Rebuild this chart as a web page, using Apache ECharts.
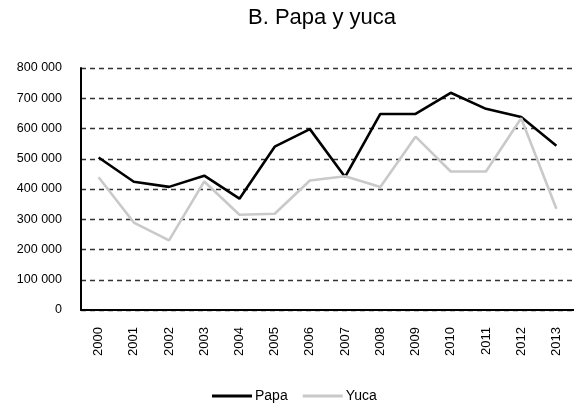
<!DOCTYPE html>
<html>
<head>
<meta charset="utf-8">
<script src="https://cdn.jsdelivr.net/npm/echarts@6/dist/echarts.min.js"></script>
<style>
  html, body { margin: 0; padding: 0; background: #fff; }
  #chart { width: 574px; height: 407px; }
</style>
</head>
<body>
<div id="chart"></div>
<script>
// datos
const years = ['2000', '2001', '2002', '2003', '2004', '2005', '2006',
  '2007', '2008', '2009', '2010', '2011', '2012', '2013']
const papa = [504000, 424000, 407000, 444000, 368000, 540000, 598000,
  440000, 648000, 648000, 718000, 665000, 638000, 543000]
const yuca = [439000, 289000, 230000, 425000, 315000, 318000, 428000,
  442000, 407000, 573000, 458000, 458000, 634000, 335000]

const fmt = v => String(v).replace(/\B(?=(\d{3})+(?!\d))/g, ' ')

const chart = echarts.init(document.getElementById('chart'))
chart.setOption({
  animation: false,
  textStyle: { fontFamily: 'Liberation Sans, Arial, sans-serif' },
  title: {
    text: 'B. Papa y yuca',
    left: 317,
    textAlign: 'center',
    top: 2,
    textStyle: { fontSize: 22, fontWeight: 'normal', color: '#000' }
  },
  legend: {
    top: 384,
    left: 207,
    itemWidth: 40,
    itemHeight: 3,
    itemGap: 15,
    icon: 'rect',
    textStyle: { fontSize: 14, color: '#000', padding: [0, 0, 0, -2] },
    data: ['Papa', 'Yuca']
  },
  grid: { left: 81, right: -3, top: 68, bottom: 97 },
  xAxis: {
    type: 'category',
    data: years,
    boundaryGap: true,
    axisLine: { lineStyle: { color: '#000', width: 2 } },
    axisTick: { show: false },
    axisLabel: { rotate: 90, margin: 17, fontSize: 13, color: '#000' }
  },
  yAxis: {
    type: 'value',
    min: 0,
    max: 800000,
    interval: 100000,
    axisLine: { show: true, lineStyle: { color: '#000', width: 2 } },
    axisTick: { show: false },
    axisLabel: { margin: 19, fontSize: 12.5, color: '#000', formatter: fmt },
    splitLine: { lineStyle: { color: '#333', type: [5, 4], width: 1.3 } }
  },
  series: [
    {
      name: 'Papa',
      type: 'line',
      data: papa,
      symbol: 'none',
      lineStyle: { color: '#000', width: 2.6 },
      itemStyle: { color: '#000' }
    },
    {
      name: 'Yuca',
      type: 'line',
      data: yuca,
      symbol: 'none',
      lineStyle: { color: '#c9c9c9', width: 2.6 },
      itemStyle: { color: '#c9c9c9' }
    }
  ]
})
</script>
</body>
</html>
